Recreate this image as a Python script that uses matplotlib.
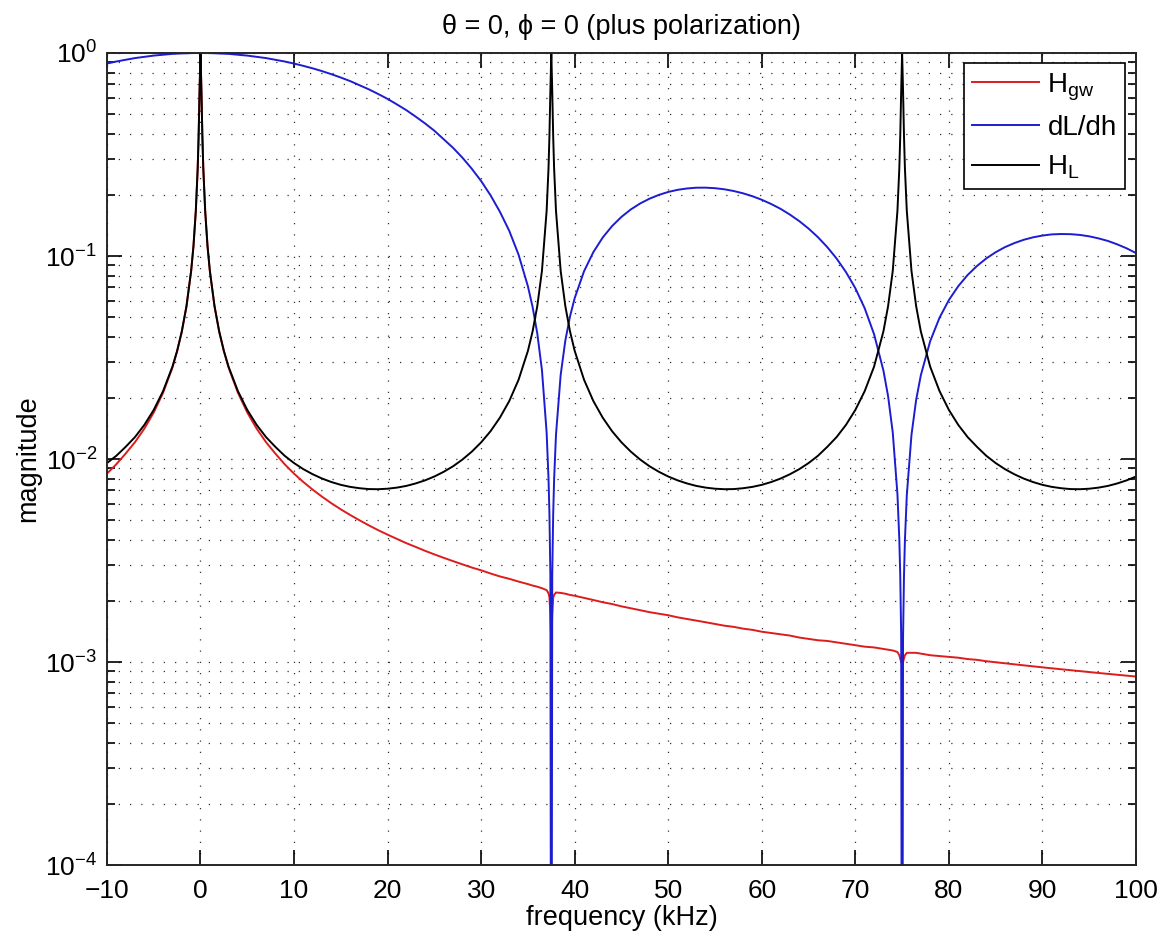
import matplotlib
matplotlib.use("Agg")
import matplotlib.pyplot as plt
from matplotlib.ticker import LogLocator, NullFormatter, FixedLocator

plt.rcParams['font.family'] = ['Liberation Sans', 'DejaVu Sans']
plt.rcParams['mathtext.fontset'] = 'custom'
plt.rcParams['mathtext.rm'] = 'Liberation Sans'
plt.rcParams['mathtext.it'] = 'Liberation Sans:italic'
plt.rcParams['mathtext.bf'] = 'Liberation Sans:bold'

# frequency samples (kHz)
freq = [-10, -9, -8, -7, -6, -5, -4, -3,
        -2.5, -2, -1.5, -1, -0.75, -0.5, -0.3, -0.2, -0.1, 0,
        0.1, 0.2, 0.3, 0.5, 0.75, 1, 1.5, 2, 2.5, 3,
        4, 5, 6, 7, 8, 9, 10,
        11, 12, 13, 14, 15, 16, 17, 18, 18.75, 19, 20, 21, 22, 23, 24, 25, 26, 27, 28, 29, 30,
        31, 32, 33, 34, 35, 35.5, 36, 36.5, 37,
        37.2, 37.3, 37.4, 37.5, 37.6, 37.7, 37.8,
        38, 38.5, 39, 39.5, 40, 41, 42, 43, 44,
        45, 46, 47, 48, 49, 50, 51, 52, 53, 54, 55, 56, 57, 58, 59, 60, 61, 62, 63, 64, 65, 66, 67, 68, 69, 70,
        71, 72, 73, 73.5, 74, 74.5,
        74.7, 74.8, 74.9, 75, 75.1, 75.2, 75.3,
        75.5, 76, 76.5, 77, 78, 79, 80,
        81, 82, 83, 84, 85, 86, 87, 88, 89, 90, 91, 92, 93, 94, 95, 96, 97, 98, 99, 100]

# H_L (black)
h_l = [0.00955, 0.01037, 0.01148, 0.01283, 0.01473, 0.01745, 0.0216, 0.0285,
       0.0341, 0.0425, 0.0566, 0.0845, 0.112, 0.167, 0.27, 0.39, 0.65, 1.0,
       0.65, 0.39, 0.27, 0.167, 0.112, 0.0845, 0.0566, 0.0425, 0.0341, 0.0285,
       0.0216, 0.01745, 0.01473, 0.01283, 0.01148, 0.01037, 0.00955,
       0.00891, 0.00841, 0.00801, 0.0077, 0.00746, 0.00729, 0.00718, 0.00711, 0.0071, 0.0071, 0.00714,
       0.00723, 0.00737, 0.00758, 0.00785, 0.0082, 0.00865, 0.00921, 0.00994, 0.01087, 0.01208,
       0.0137, 0.01597, 0.01928, 0.02456, 0.0341, 0.0425, 0.0566, 0.0845, 0.167,
       0.27, 0.39, 0.65, 1.0, 0.65, 0.39, 0.27,
       0.167, 0.0845, 0.0566, 0.0425, 0.0341, 0.02456, 0.01928, 0.01597, 0.0137,
       0.01208, 0.01087, 0.00994, 0.00921, 0.00865, 0.0082, 0.00785, 0.00758, 0.00737, 0.00723, 0.00714, 0.0071, 0.00711,
       0.00718, 0.00729, 0.00746, 0.0077, 0.00801, 0.00841, 0.00891, 0.00955, 0.01037, 0.01148, 0.01283, 0.01473, 0.01745,
       0.0216, 0.0285, 0.0425, 0.0566, 0.0845, 0.167,
       0.27, 0.39, 0.65, 1.0, 0.65, 0.39, 0.27,
       0.167, 0.0845, 0.0566, 0.0425, 0.0285, 0.0216, 0.01745,
       0.01473, 0.01283, 0.01148, 0.01037, 0.00955, 0.00891, 0.00841, 0.00801, 0.0077, 0.00746,
       0.00729, 0.00718, 0.00711, 0.0071, 0.00714, 0.00723, 0.00737, 0.00758, 0.00785, 0.0082]

# dL/dh (blue)
dl_dh = [0.887, 0.908, 0.926, 0.944, 0.958, 0.971, 0.981, 0.990,
         0.993, 0.995, 0.997, 0.999, 0.999, 1.0, 1.0, 1.0, 1.0, 1.0,
         1.0, 1.0, 1.0, 1.0, 0.999, 0.999, 0.997, 0.995, 0.993, 0.990,
         0.981, 0.971, 0.958, 0.944, 0.926, 0.908, 0.887,
         0.864, 0.840, 0.814, 0.786, 0.757, 0.727, 0.694, 0.662, 0.637, 0.628, 0.594,
         0.558, 0.523, 0.486, 0.450, 0.414, 0.376, 0.341, 0.305, 0.269, 0.234,
         0.1992, 0.1653, 0.1332, 0.1015, 0.0709, 0.0561, 0.0416, 0.0274, 0.0135,
         0.00806, 0.00536, 0.00268, 1e-6, 0.00266, 0.00531, 0.00794,
         0.01316, 0.02594, 0.03836, 0.0504, 0.06204, 0.08415, 0.1046, 0.1234, 0.1405,
         0.1559, 0.1696, 0.1815, 0.1916, 0.2000, 0.2068, 0.2118, 0.2151, 0.2170, 0.2171, 0.2158, 0.2131, 0.2090,
         0.2036, 0.1970, 0.1892, 0.1804, 0.1708, 0.1600, 0.1486, 0.1365, 0.1238, 0.1106, 0.0971, 0.0833, 0.0694,
         0.0553, 0.0412, 0.0273, 0.0204, 0.0135, 0.00671,
         0.00402, 0.00267, 0.00134, 1e-6, 0.00133, 0.00266, 0.00398,
         0.00662, 0.01314, 0.01956, 0.02585, 0.03806, 0.04969, 0.06069,
         0.0710, 0.0806, 0.0893, 0.0973, 0.1044, 0.1106, 0.1158, 0.1202, 0.1236, 0.1261,
         0.1278, 0.1283, 0.1281, 0.1270, 0.1250, 0.1221, 0.1186, 0.1141, 0.1091, 0.1034]

# H_gw (red)
h_gw = [0.00847, 0.00942, 0.01064, 0.01211, 0.01412, 0.01694, 0.0212, 0.0282,
        0.0339, 0.0423, 0.0564, 0.0844, 0.112, 0.167, 0.27, 0.39, 0.65, 1.0,
        0.65, 0.39, 0.27, 0.167, 0.112, 0.0844, 0.0564, 0.0423, 0.0339, 0.0282,
        0.0212, 0.01694, 0.01412, 0.01211, 0.01064, 0.00942, 0.00847,
        0.0077, 0.00706, 0.00652, 0.00605, 0.00565, 0.0053, 0.00499, 0.00471, 0.00452, 0.00446, 0.00424,
        0.00404, 0.00385, 0.00369, 0.00353, 0.00339, 0.00326, 0.00314, 0.00303, 0.00292, 0.00283,
        0.00273, 0.00264, 0.00257, 0.00249, 0.00242, 0.00238, 0.00235, 0.00231, 0.00226,
        0.00218, 0.00209, 0.00174, 0.0012, 0.00173, 0.00207, 0.00214,
        0.0022, 0.00219, 0.00217, 0.00214, 0.00212, 0.00207, 0.00202, 0.00197, 0.00193,
        0.00188, 0.00184, 0.0018, 0.00176, 0.00173, 0.0017, 0.00166, 0.00163, 0.0016, 0.00157, 0.00154, 0.00151, 0.00149,
        0.00146, 0.00144, 0.00141, 0.00139, 0.00137, 0.00135, 0.00132, 0.0013, 0.00128, 0.00127, 0.00125, 0.00123, 0.00121,
        0.00119, 0.00118, 0.00116, 0.00115, 0.00114, 0.00112,
        0.00108, 0.00104, 0.00100, 0.00098, 0.00100, 0.00104, 0.00108,
        0.00111, 0.00111, 0.00111, 0.0011, 0.00108, 0.00107, 0.00106,
        0.00105, 0.001034, 0.001025, 0.001009, 0.000997, 0.000985, 0.000974, 0.000963, 0.000952, 0.000941,
        0.000931, 0.000921, 0.000911, 0.000901, 0.000892, 0.000883, 0.000874, 0.000865, 0.000856, 0.000848]

x_ticks = [-10, 0, 10, 20, 30, 40, 50, 60, 70, 80, 90, 100]

fig = plt.figure(figsize=(11.65, 9.38), dpi=100)
ax = fig.add_axes([0.0918, 0.0778, 0.8833, 0.8657])

ax.semilogy(freq, h_gw, color='#dd1c1c', lw=1.4, label=r'H$_{\rm gw}$')
ax.semilogy(freq, dl_dh, color='#1c1cd0', lw=1.4, label='dL/dh')
ax.semilogy(freq, h_l, color='black', lw=1.4, label=r'H$_{\rm L}$')

ax.set_xlim(-10, 100)
ax.set_ylim(1e-4, 1)
ax.xaxis.set_major_locator(FixedLocator(x_ticks))
ax.yaxis.set_major_locator(LogLocator(base=10, numticks=10))
ax.yaxis.set_minor_locator(LogLocator(base=10, subs=range(2, 10), numticks=50))
ax.yaxis.set_minor_formatter(NullFormatter())

dots = (0, (1, 8))
ax.grid(True, which='major', axis='both', linestyle=dots, color='0.2', lw=0.9)
ax.grid(True, which='minor', axis='y', linestyle=dots, color='0.2', lw=0.9)

ax.tick_params(which='both', direction='in', top=True, right=True, labelsize=19, width=1.2)
ax.tick_params(which='major', length=11)
ax.tick_params(which='minor', length=6)
ax.tick_params(axis='x', which='major', pad=10)
ax.tick_params(axis='y', which='major', pad=7)
for sp in ax.spines.values():
    sp.set_linewidth(1.4)
    sp.set_color('0.15')

ax.set_title('θ = 0, ϕ = 0 (plus polarization)', fontsize=19.5, pad=14)
ax.set_xlabel('frequency (kHz)', fontsize=19.5)
ax.set_ylabel('magnitude', fontsize=19.5)
ax.xaxis.set_label_coords(0.5, -0.049)
ax.yaxis.set_label_coords(-0.064, 0.5)

leg = ax.legend(loc='upper right', bbox_to_anchor=(0.9893, 0.9877), fontsize=20,
                frameon=True, fancybox=False, framealpha=1, edgecolor='black',
                handlelength=2.4, labelspacing=0.45, borderaxespad=0, borderpad=0.3,
                handletextpad=0.3)
leg.get_frame().set_linewidth(1.2)

fig.savefig('out.png', dpi=100)
